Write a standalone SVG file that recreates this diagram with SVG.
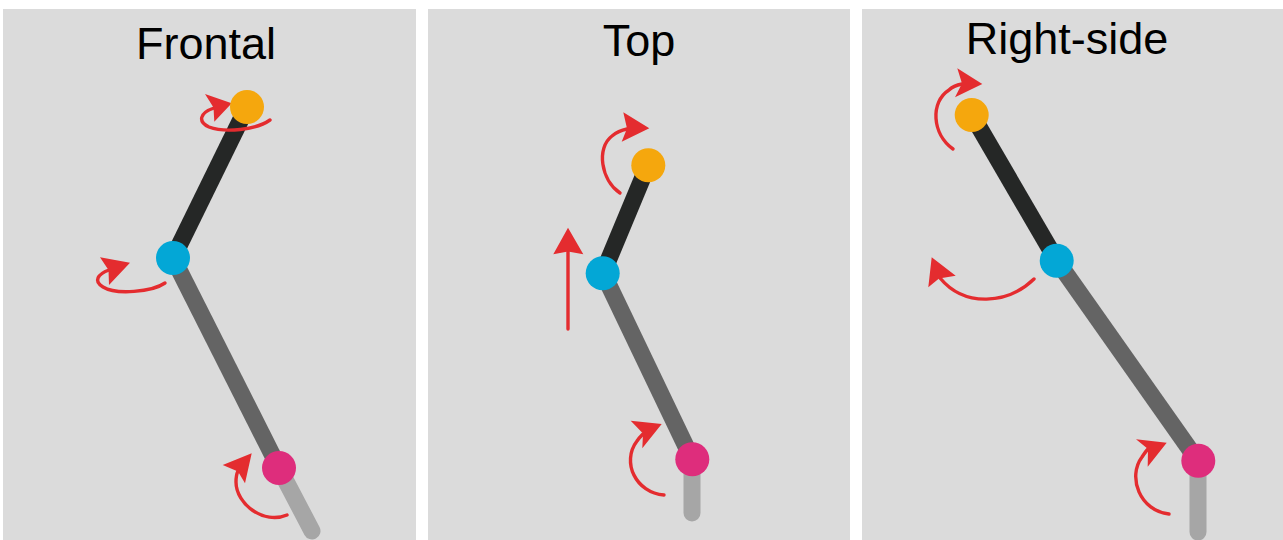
<svg xmlns="http://www.w3.org/2000/svg" width="1283" height="540" viewBox="0 0 1283 540">
<style>
.panel{fill:#dbdbdb}
.title{font-family:"Liberation Sans",Arial,sans-serif;font-size:45px;fill:#000;text-anchor:middle}
.seg{fill:none;stroke-width:17}
.upper{stroke:#252726}
.lower{stroke:#646464}
.end{stroke:#a6a6a6;stroke-linecap:round}
.arc{fill:none;stroke:#e42c2f;stroke-width:3.4;stroke-linecap:round}
.head{fill:#e42c2f}
.orange{fill:#f5a70d}
.blue{fill:#03a7d6}
.pink{fill:#de2d7c}
</style>
<rect width="1283" height="540" fill="#fff"/>
<g id="panel-frontal">
<rect class="panel" x="3" y="9" width="413" height="531"/>
<text class="title" x="206" y="59">Frontal</text>
</g>
<g id="panel-top">
<rect class="panel" x="428" y="9" width="422" height="531"/>
<text class="title" x="639" y="56">Top</text>
</g>
<g id="panel-right">
<rect class="panel" x="862" y="9" width="421" height="531"/>
<text class="title" x="1067" y="54">Right-side</text>
</g>
<g id="connectors">
<path class="seg upper" d="M247 107L173 258"/>
<path class="seg lower" d="M173 258L279 468"/>
<path class="seg end" d="M279 468L312 531"/>
<path class="seg upper" d="M648 165L603 273"/>
<path class="seg lower" d="M603 273L692 459"/>
<path class="seg end" d="M692 459V513"/>
<path class="seg upper" d="M972 115L1057 261"/>
<path class="seg lower" d="M1057 261L1198 461"/>
<path class="seg end" d="M1198 461V532"/>
<path class="arc" d="M270 120C256 130 225 133 209 127C198 122 199 113 214 108"/>
<polygon class="head" points="231.7,103.3 205,94 213.5,107.5 214.3,121.7"/>
<path class="arc" d="M165 283C152 292 116 295 103 287C93 281 98 274 109 270"/>
<polygon class="head" points="130,262.7 100,257.3 108.5,270 109,285"/>
<path class="arc" d="M287 515C264 525 236 504 236 482C236 476 237 473 238 471"/>
<polygon class="head" points="251.7,453.3 222.7,465 238,471.5 245,483.3"/>
<path class="arc" d="M620 193C601 180 596 148 612 136C618 131 622 130 627 129"/>
<polygon class="head" points="649.3,128.3 623.3,112.3 627,128.5 621.7,141.7"/>
<path class="arc" d="M568 329V250"/>
<polygon class="head" points="568,227.7 553.3,254.3 568,251.5 583.3,254.3"/>
<path class="arc" d="M664 495C636 493 621 462 637 441C639 438 641 436 643 434"/>
<polygon class="head" points="661.7,424 630.7,420.7 643,433.5 642.3,448.3"/>
<path class="arc" d="M953 149C932 134 930 102 949 90C953 86 957 85 962 84"/>
<polygon class="head" points="982.3,84 957.3,68.3 962,83.5 955,97.3"/>
<path class="arc" d="M1034 279C1008 304 965 308 940 278"/>
<polygon class="head" points="931.7,257.3 955.7,275.7 939,278.5 928.3,287.3"/>
<path class="arc" d="M1169 514C1140 511 1127 477 1142 457C1144 454 1146 451 1148 449"/>
<polygon class="head" points="1166.7,442.7 1136,439.3 1148,449 1147.7,466.7"/>
</g>
<g id="frontal-orange"><circle class="orange" cx="247" cy="107" r="17"/></g>
<g id="frontal-blue"><circle class="blue" cx="173" cy="258" r="17"/></g>
<g id="frontal-pink"><circle class="pink" cx="279" cy="468" r="17"/></g>
<g id="top-orange"><circle class="orange" cx="648.3" cy="165.3" r="17"/></g>
<g id="top-blue"><circle class="blue" cx="602.7" cy="273.3" r="17"/></g>
<g id="top-pink"><circle class="pink" cx="692.3" cy="459.3" r="17"/></g>
<g id="right-orange"><circle class="orange" cx="971.7" cy="115" r="17"/></g>
<g id="right-blue"><circle class="blue" cx="1056.7" cy="260.7" r="17"/></g>
<g id="right-pink"><circle class="pink" cx="1198.3" cy="460.7" r="17"/></g>
</svg>
